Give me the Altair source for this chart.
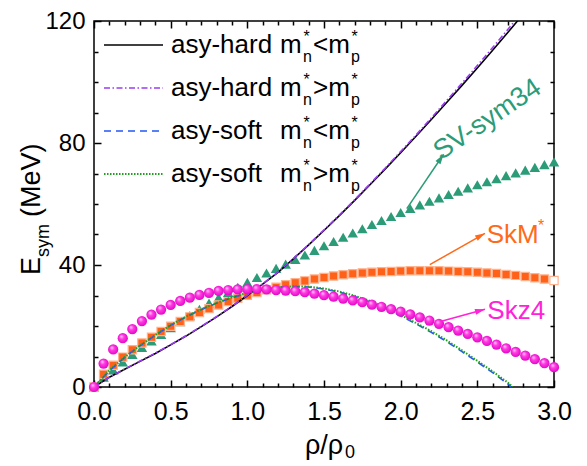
import math
import pandas as pd
import altair as alt

# ---------------- data ----------------
rho = [0.0, 0.0625, 0.125, 0.1875, 0.25, 0.3125, 0.375, 0.4375, 0.5, 0.5625,
       0.625, 0.6875, 0.75, 0.8125, 0.875, 0.9375, 1.0, 1.0625, 1.125, 1.1875,
       1.25, 1.3125, 1.375, 1.4375, 1.5, 1.5625, 1.625, 1.6875, 1.75, 1.8125,
       1.875, 1.9375, 2.0, 2.0625, 2.125, 2.1875, 2.25, 2.3125, 2.375, 2.4375,
       2.5, 2.5625, 2.625, 2.6875, 2.75, 2.8125, 2.875, 2.9375, 3.0]
e_sv_sym34 = [0.0, 3.2, 5.6, 8.2, 10.7, 13.0, 15.1, 17.2, 19.4, 21.4,
              23.4, 25.5, 27.5, 29.3, 31.0, 32.7, 34.3, 35.9, 37.4, 38.9,
              40.3, 41.8, 43.3, 44.8, 46.3, 47.7, 49.1, 50.5, 51.9, 53.3,
              54.6, 55.9, 57.2, 58.5, 59.7, 60.9, 62.0, 63.1, 64.2, 65.3,
              66.3, 67.3, 68.3, 69.3, 70.2, 71.1, 72.0, 72.9, 73.8]
e_skm_star = [0.0, 4.2, 7.1, 9.8, 12.2, 14.4, 16.3, 18.2, 19.9, 21.5,
              23.0, 24.4, 25.7, 26.9, 28.0, 29.1, 30.1, 31.0, 31.9, 32.7,
              33.5, 34.2, 34.8, 35.4, 35.9, 36.4, 36.8, 37.1, 37.4, 37.6,
              37.8, 37.9, 38.0, 38.1, 38.1, 38.1, 38.1, 38.0, 37.9, 37.8,
              37.6, 37.4, 37.2, 36.9, 36.6, 36.2, 35.8, 35.4, 34.9]
e_skz4 = [0.0, 7.7, 12.3, 16.0, 19.0, 21.6, 23.7, 25.4, 26.9, 28.2,
          29.3, 30.2, 30.9, 31.5, 31.8, 32.0, 32.1, 32.1, 32.0, 31.8,
          31.6, 31.4, 31.1, 30.6, 30.1, 29.6, 29.0, 28.4, 27.8, 27.0,
          26.3, 25.5, 24.7, 23.8, 22.8, 21.8, 20.7, 19.6, 18.5, 17.4,
          16.3, 15.1, 13.9, 12.7, 11.5, 10.3, 9.1, 7.8, 6.5]

rho_hard = [0.0, 0.1, 0.2, 0.3, 0.4, 0.5, 0.6, 0.7, 0.8, 0.9, 1.0, 1.1, 1.2, 1.3,
            1.4, 1.5, 1.6, 1.7, 1.8, 1.9, 2.0, 2.1, 2.2, 2.3, 2.4, 2.5, 2.6, 2.7, 2.8]
e_hard_lt = [0.0, 3.2, 5.8, 8.4, 11.0, 13.8, 16.7, 19.8, 23.0, 26.4, 30.0, 33.7, 37.6, 42.0,
             46.6, 51.3, 56.2, 61.2, 66.3, 71.5, 76.8, 82.2, 87.7, 93.3, 98.9, 104.6, 110.4, 116.3, 122.3]
e_hard_gt = [0.0, 3.2, 5.9, 8.5, 11.1, 13.9, 16.8, 19.9, 23.1, 26.5, 30.1, 33.8, 37.7, 42.1,
             46.7, 51.5, 56.4, 61.4, 66.6, 71.8, 77.2, 82.6, 88.2, 93.9, 99.6, 105.4, 111.3, 117.3, 123.4]

rho_soft_lt = [0.0, 0.1, 0.2, 0.3, 0.4, 0.5, 0.6, 0.7, 0.8, 0.9, 1.0, 1.1, 1.2, 1.3,
               1.4, 1.5, 1.6, 1.7, 1.8, 1.9, 2.0, 2.1, 2.2, 2.3, 2.4, 2.5, 2.6, 2.7, 2.72]
e_soft_lt = [0.0, 5.3, 9.7, 13.5, 17.0, 20.2, 23.0, 25.4, 27.5, 29.3, 30.8, 31.9, 32.6, 32.9,
             32.8, 32.1, 31.1, 29.7, 27.9, 25.8, 23.3, 20.7, 17.9, 14.9, 11.6, 8.2, 4.7, 1.0, 0.0]
rho_soft_gt = [0.0, 0.1, 0.2, 0.3, 0.4, 0.5, 0.6, 0.7, 0.8, 0.9, 1.0, 1.1, 1.2, 1.3,
               1.4, 1.5, 1.6, 1.7, 1.8, 1.9, 2.0, 2.1, 2.2, 2.3, 2.4, 2.5, 2.6, 2.7, 2.73]
e_soft_gt = [0.0, 5.4, 9.8, 13.6, 17.1, 20.3, 23.1, 25.5, 27.6, 29.4, 30.9, 32.0, 32.7, 33.0,
             32.9, 32.3, 31.3, 29.9, 28.2, 26.1, 23.6, 21.0, 18.3, 15.3, 12.0, 8.6, 5.1, 1.4, 0.0]

x_major = [0.0, 0.5, 1.0, 1.5, 2.0, 2.5, 3.0]
x_ticks = [0.0, 0.1, 0.2, 0.3, 0.4, 0.5, 0.6, 0.7, 0.8, 0.9, 1.0, 1.1, 1.2, 1.3, 1.4, 1.5,
           1.6, 1.7, 1.8, 1.9, 2.0, 2.1, 2.2, 2.3, 2.4, 2.5, 2.6, 2.7, 2.8, 2.9, 3.0]
y_major = [0, 40, 80, 120]
y_ticks = [0, 10, 20, 30, 40, 50, 60, 70, 80, 90, 100, 110, 120]

legend_names = ["asy-hard", "asy-hard", "asy-soft", "asy-soft"]
legend_rel = ["<m", ">m", "<m", ">m"]

# annotation labels and arrows (data coordinates)
arrow_x1 = [2.04, 2.19, 2.26]
arrow_y1 = [58.5, 40.1, 21.5]
arrow_x2 = [2.28, 2.55, 2.55]
arrow_y2 = [76.3, 50.4, 25.5]

# ---------------- style ----------------
W, H = 460, 366
FONT = "Liberation Sans"
C_TRI = "#2B9B78"
C_SQ = "#FF6119"
C_SPH = "#FF22D8"
C_PURPLE = "#9B3CF2"
C_BLUE = "#2457F5"
C_GREEN = "#1FA01F"
arrow_colors = [C_TRI, "#FF6A1A", C_SPH]

xs = alt.Scale(domain=[0, 3], nice=False, zero=False)
ys = alt.Scale(domain=[0, 120], nice=False, zero=False)

x_ts = {"condition": {"test": "abs(datum.value * 2 - round(datum.value * 2)) < 0.01", "value": 7}, "value": 4}
y_ts = {"condition": {"test": "datum.value % 40 == 0", "value": 7}, "value": 4}
tick_common = dict(labels=False, domain=False, grid=False, tickWidth=1.5, tickColor="black", title=None)

ax_x_lab = alt.Axis(orient="bottom", values=x_major, format=".1f", ticks=False, domain=False, grid=False,
                    labelPadding=12, labelFlush=False, title=None, labelFontSize=25, labelFont=FONT,
                    labelColor="black")
ax_x_bot = alt.Axis(orient="top", offset=-H, values=x_ticks, tickSize=x_ts, **tick_common)
ax_x_top = alt.Axis(orient="bottom", offset=-H, values=x_ticks, tickSize=x_ts, **tick_common)
ax_y_lab = alt.Axis(orient="left", values=y_major, ticks=False, domain=False, grid=False,
                    labelPadding=9, title=None, labelFontSize=24, labelFont=FONT, labelColor="black")
ax_y_left = alt.Axis(orient="right", offset=-W, values=y_ticks, tickSize=y_ts, **tick_common)
ax_y_right = alt.Axis(orient="left", offset=-W, values=y_ticks, tickSize=y_ts, **tick_common)

df = pd.DataFrame({"rho": rho, "sv": e_sv_sym34, "skm": e_skm_star, "skz4": e_skz4})

tri = alt.Chart(df).mark_point(shape="triangle-up", filled=True, size=110, color=C_TRI,
                               opacity=1, strokeWidth=0).encode(
    x=alt.X("rho:Q", scale=xs, axis=ax_x_lab), y=alt.Y("sv:Q", scale=ys, axis=ax_y_lab))

sq = alt.Chart(df).mark_point(shape="square", filled=True, size=68, stroke="#FFB28E",
                              strokeWidth=1.2, opacity=1).encode(
    x=alt.X("rho:Q", scale=xs, axis=ax_x_bot), y=alt.Y("skm:Q", scale=ys, axis=ax_y_left),
    fill=alt.condition("datum.rho >= 3", alt.value("#FFFFFF"), alt.value(C_SQ)))

sphere_fill = {"gradient": "radial", "x1": 0.35, "y1": 0.3, "r1": 0.0,
               "x2": 0.5, "y2": 0.5, "r2": 0.55,
               "stops": [{"offset": 0.0, "color": "#FFD8F6"},
                         {"offset": 0.4, "color": "#FF3DE3"},
                         {"offset": 1.0, "color": "#E000C4"}]}
sph = alt.Chart(df).mark_point(shape="circle", filled=True, size=105, fill=sphere_fill,
                               opacity=1, strokeWidth=0).encode(
    x=alt.X("rho:Q", scale=xs, axis=ax_x_top), y=alt.Y("skz4:Q", scale=ys, axis=ax_y_right))


def line_layer(xv, yv, color, dash, width=1.6):
    d = pd.DataFrame({"x": xv, "y": yv})
    kw = dict(color=color, strokeWidth=width, clip=True)
    if dash:
        kw["strokeDash"] = dash
    return alt.Chart(d).mark_line(**kw).encode(
        x=alt.X("x:Q", scale=xs, axis=None), y=alt.Y("y:Q", scale=ys, axis=None), order="x:Q")


l_hard_lt = line_layer(rho_hard, e_hard_lt, "black", None, 1.6)
l_hard_gt = line_layer(rho_hard, e_hard_gt, C_PURPLE, [6, 2.5, 1.5, 2.5], 1.6)
l_soft_lt = line_layer(rho_soft_lt, e_soft_lt, C_BLUE, [7, 5], 1.6)
l_soft_gt = line_layer(rho_soft_gt, e_soft_gt, C_GREEN, [1.5, 1.5], 2.0)

# arrows
ppx, ppy = W / 3.0, H / 120.0
angles = [math.degrees(math.atan2((b - a) * ppx, (d - c) * ppy)) % 360
          for a, b, c, d in zip(arrow_x1, arrow_x2, arrow_y1, arrow_y2)]
adf = pd.DataFrame({"x1": arrow_x1, "y1": arrow_y1, "x2": arrow_x2, "y2": arrow_y2,
                    "c": arrow_colors, "ang": angles})
arr_line = alt.Chart(adf).mark_rule(strokeWidth=1.5).encode(
    x=alt.X("x1:Q", scale=xs, axis=None), y=alt.Y("y1:Q", scale=ys, axis=None),
    x2="x2:Q", y2="y2:Q", color=alt.Color("c:N", scale=None))
arr_head = alt.Chart(adf).mark_point(shape="M0,0L-0.6,2L0.6,2Z", filled=True, size=100,
                                     opacity=1, strokeWidth=0).encode(
    x=alt.X("x2:Q", scale=xs, axis=None), y=alt.Y("y2:Q", scale=ys, axis=None),
    color=alt.Color("c:N", scale=None), angle=alt.Angle("ang:Q", scale=None))

# annotation text (data coordinates)
ann_df = pd.DataFrame({
    "t": ["SkM", "*", "Skz4"],
    "x": [2.561, 2.895, 2.565],
    "y": [47.1, 51.3, 22.3],
    "fs": [26, 16, 26],
    "c": ["#FF6A1A", "#FF6A1A", C_SPH],
})
ann = alt.Chart(ann_df).mark_text(font=FONT, align="left", baseline="alphabetic").encode(
    x=alt.X("x:Q", scale=xs, axis=None), y=alt.Y("y:Q", scale=ys, axis=None),
    text="t:N", size=alt.Size("fs:Q", scale=None), color=alt.Color("c:N", scale=None))
sv_df = pd.DataFrame({"t": ["SV-sym34"], "x": [2.566], "y": [87.7]})
sv_txt = alt.Chart(sv_df).mark_text(font=FONT, fontSize=27, angle=326, align="center",
                                    baseline="middle", color=C_TRI).encode(
    x=alt.X("x:Q", scale=xs, axis=None), y=alt.Y("y:Q", scale=ys, axis=None), text="t:N")

# legend (pixel layout inside the plot)
row_y = [24, 67, 110, 153]
leg_styles = [("black", None, 1.6), (C_PURPLE, [6, 2.5, 1.5, 2.5], 1.6),
              (C_BLUE, [7, 5], 1.6), (C_GREEN, [1.5, 1.5], 2.0)]
one = pd.DataFrame({"a": [0]})
leg_rules = []
for ly, (col, dash, wd) in zip(row_y, leg_styles):
    kw = dict(color=col, strokeWidth=wd)
    if dash:
        kw["strokeDash"] = dash
    leg_rules.append(alt.Chart(one).mark_rule(**kw).encode(
        x=alt.value(10), x2=alt.value(69), y=alt.value(ly)))

rows = []
for ly, nm, rel in zip(row_y, legend_names, legend_rel):
    b = ly + 8
    rows += [
        (nm, 77, b, 26, 0), ("m", 186, b, 26, 0), ("n", 209, b + 8.5, 16, 0),
        ("*", 209.5, b - 11, 16, 0), (rel, 219, b, 26, 0), ("p", 257, b + 8.5, 16, 0),
        ("*", 257.5, b - 11, 16, 0),
    ]
# axis titles
rows += [("E", -54, 254, 27, 270), ("sym", -45, 236, 18, 270), ("(MeV)", -54, 196, 27, 270),
         ("ρ/ρ", 211, 433, 27, 0), ("0", 251, 437, 18, 0)]
tdf = pd.DataFrame(rows, columns=["t", "px", "py", "fs", "ang"])
txt = alt.Chart(tdf).mark_text(font=FONT, align="left", baseline="alphabetic", color="black").encode(
    x=alt.X("px:Q", scale=None, axis=None), y=alt.Y("py:Q", scale=None, axis=None),
    text="t:N", size=alt.Size("fs:Q", scale=None), angle=alt.Angle("ang:Q", scale=None))

chart = alt.layer(
    tri, sq, l_hard_lt, l_hard_gt, l_soft_lt, l_soft_gt, sph,
    arr_line, arr_head, ann, sv_txt, *leg_rules, txt
).resolve_axis(x="independent", y="independent").properties(
    width=W, height=H,
    autosize=alt.AutoSizeParams(type="none"),
    padding={"left": 86, "top": 13, "right": 20, "bottom": 78},
    background="white",
).configure_view(stroke="black", strokeWidth=1.5).configure_axis(grid=False)

chart.save("out.html", embed_options={"renderer": "svg", "actions": False})
